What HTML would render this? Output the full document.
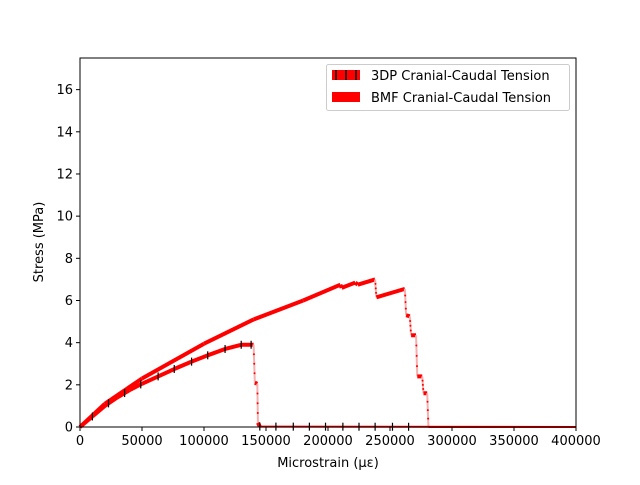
<!DOCTYPE html>
<html><head><meta charset="utf-8"><style>
body{margin:0;background:#fff;}
svg text{font-family:"DejaVu Sans","Liberation Sans",sans-serif;font-size:13px;fill:#000;}
</style></head><body>
<svg id="c" width="640" height="480"></svg>
<script>
const xs3DP=[0,10000,20000,30000,40000,50000,63000,76000,90000,103000,117000,130000,138000,140000,141000,143000,143500,145000,400000];
const ys3DP=[0,0.5,1.0,1.4,1.75,2.05,2.4,2.75,3.1,3.4,3.7,3.9,3.9,3.9,2.1,2.05,0.2,0.02,0];
const errX3DP=[10000,23000,36000,49000,63000,76000,90000,103000,117000,130000,138000,145000,158000,172000,185000,198000,212000,225000,238000,252000,265000];
const xsBMF=[0,20000,50000,100000,140000,180000,210000,211000,222000,224000,238000,239000,262000,263000,266000,267000,271000,272000,276000,277000,280000,281000,400000];
const ysBMF=[0,1.1,2.3,3.95,5.1,6.0,6.75,6.6,6.85,6.75,7.0,6.15,6.55,5.3,5.25,4.35,4.35,2.4,2.4,1.6,1.6,0,0];
const xTicks=[0,50000,100000,150000,200000,250000,300000,350000,400000];
const yTicks=[0,2,4,6,8,10,12,14,16];
const L=80,R=576,T=58,B=427;
const sx=v=>L+(v/400000)*(R-L), sy=v=>B-(v/17.5)*(B-T);
const svg=document.getElementById('c');const NS='http://www.w3.org/2000/svg';
function mk(t,a,p){const e=document.createElementNS(NS,t);for(const k in a)e.setAttribute(k,a[k]);(p||svg).appendChild(e);return e;}
function interp(xa,ya,x){for(let i=1;i<xa.length;i++){if(x<=xa[i]){const t=(x-xa[i-1])/(xa[i]-xa[i-1]||1);return ya[i-1]+t*(ya[i]-ya[i-1]);}}return ya[ya.length-1];}
function series(xa,ya,name){
  const g=mk('g',{});
  
  
  for(let i=1;i<xa.length;i++){
    const x1=sx(xa[i-1]),y1=sy(ya[i-1]),x2=sx(xa[i]),y2=sy(ya[i]);
    const steep=Math.abs(y2-y1)>3*Math.abs(x2-x1)+2;
    const zero=ya[i]===0&&ya[i-1]<0.05;
    mk('line',{x1:x1,y1:y1,x2:x2,y2:y2,stroke:steep?'#f7b0b0':'#f00','stroke-width':steep?2:(zero?2:4),'stroke-linecap':'butt'},g);
    if(steep){for(let k=1;k<4;k++)mk('circle',{cx:x1+(x2-x1)*k/4,cy:y1+(y2-y1)*k/4,r:1,fill:'#f00'},g);}
  }
}
series(xsBMF,ysBMF,'bmf-series');
series(xs3DP,ys3DP,'3dp-series');
errX3DP.forEach(x=>{const y=interp(xs3DP,ys3DP,x);
const e=mk('line',{x1:sx(x),x2:sx(x),y1:sy(y)-4,y2:sy(y)+4,stroke:'#000','stroke-width':1.2});

});
let ax=mk('rect',{x:L,y:T,width:R-L,height:B-T,fill:'none',stroke:'#000','stroke-width':1});


xTicks.forEach(v=>{mk('line',{x1:sx(v),x2:sx(v),y1:B,y2:B+4,stroke:'#000'});
const t=mk('text',{x:sx(v),y:B+18,'text-anchor':'middle'});t.textContent=v;

});
yTicks.forEach(v=>{mk('line',{x1:L-4,x2:L,y1:sy(v),y2:sy(v),stroke:'#000'});
const t=mk('text',{x:L-7,y:sy(v)+4.5,'text-anchor':'end'});t.textContent=v;

});
</script>
<svg width="640" height="480" style="position:absolute;left:0;top:0">
<text x="328" y="467" text-anchor="middle">Microstrain (με)</text>
<text x="43" y="242" text-anchor="middle" transform="rotate(-90 43 242)">Stress (MPa)</text>
<g>
<rect x="326.5" y="64.5" width="243" height="46" rx="2" fill="#fff" stroke="#ccc"/>
<rect x="332" y="70" width="28" height="10" fill="#f00"/>
<line x1="336" x2="336" y1="70" y2="80" stroke="#000" stroke-width="1.5"/>
<line x1="346" x2="346" y1="70" y2="80" stroke="#000" stroke-width="1.5"/>
<line x1="356" x2="356" y1="70" y2="80" stroke="#000" stroke-width="1.5"/>
<text x="371" y="80">3DP Cranial-Caudal Tension</text>
<rect x="332" y="92" width="28" height="10" fill="#f00"/>
<text x="371" y="102">BMF Cranial-Caudal Tension</text>
</g>
</svg>
</body></html>
